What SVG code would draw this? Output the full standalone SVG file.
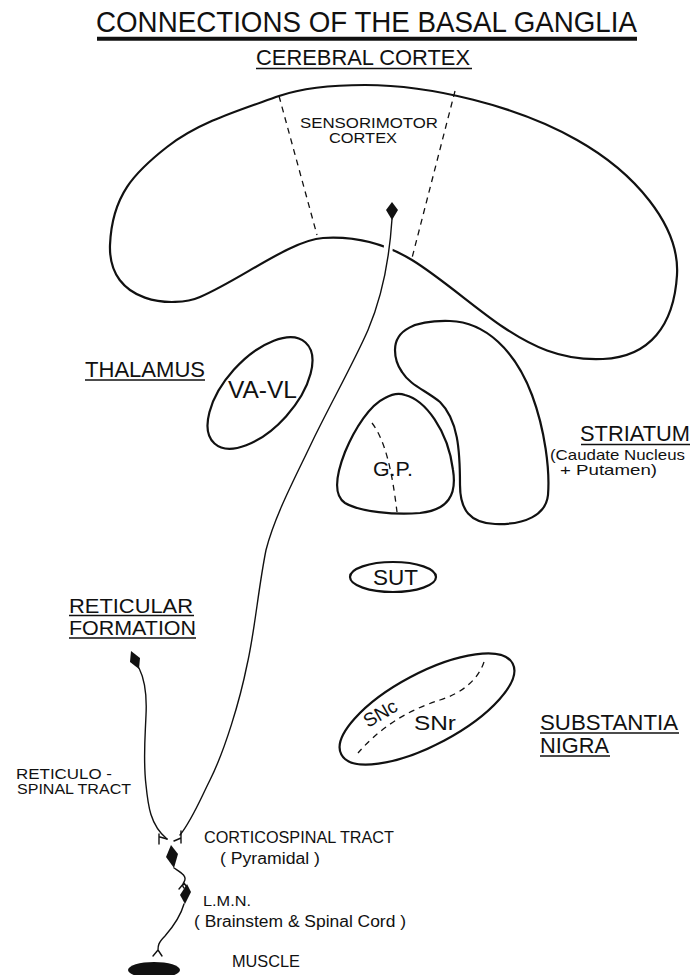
<svg xmlns="http://www.w3.org/2000/svg" width="692" height="975" viewBox="0 0 692 975">
<style>
.o{fill:none;stroke:#111;stroke-width:2.2;stroke-linejoin:round}
.d{fill:none;stroke:#111;stroke-width:1.3;stroke-dasharray:6 5}
.ax{fill:none;stroke:#111;stroke-width:1.4;stroke-linecap:round;stroke-linejoin:round}
.soma{fill:#111}
text{font-family:"Liberation Sans",Arial,sans-serif;fill:#111}
.ul{stroke:#111;stroke-width:1.5}
</style>
<rect width="692" height="975" fill="#fff"/>

<g id="title">
<text x="96" y="32" font-size="29" textLength="541" lengthAdjust="spacingAndGlyphs">CONNECTIONS OF THE BASAL GANGLIA</text>
<line x1="97" y1="38.7" x2="637" y2="38.7" stroke="#111" stroke-width="4"/>
</g>

<g id="cortex">
<text x="256" y="65" font-size="22" textLength="214" lengthAdjust="spacingAndGlyphs">CEREBRAL CORTEX</text>
<line class="ul" x1="256" y1="68.5" x2="472" y2="68.5"/>
<path class="o" d="M365,85 C430,85 518,106 577,140 C634,172 680,225 677,275 C674,325 650,357 603,359 C560,361 530,345 503,327 C476,309 440,277 412,260 C384,243 355,236 323,238 C291,240 240,280 200,297 C175,308 108,305 110,245 C112,195 135,172 167,147 C199,122 240,110 279,96 C305,87 335,85 365,85 Z"/>
<path class="d" d="M279,96 L317,235"/>
<path class="d" d="M455,91 L412,258"/>
<text x="300" y="128" font-size="14.5" textLength="138" lengthAdjust="spacingAndGlyphs">SENSORIMOTOR</text>
<text x="329" y="143" font-size="14.5" textLength="68" lengthAdjust="spacingAndGlyphs">CORTEX</text>
</g>

<g id="thalamus">
<text x="85" y="377" font-size="22" textLength="120" lengthAdjust="spacingAndGlyphs">THALAMUS</text>
<line class="ul" x1="85" y1="380" x2="205" y2="380"/>
<ellipse class="o" cx="260" cy="393" rx="68" ry="35" transform="rotate(-48 260 393)"/>
<text x="228" y="398" font-size="23" textLength="69" lengthAdjust="spacingAndGlyphs">VA-VL</text>
</g>

<g id="striatum">
<path class="o" d="M395,350 C395,330 415,320 450,321 C485,322 515,350 532,395 C545,430 550,470 548,495 C546,515 525,525 495,524 C470,523 460,510 460,485 C460,450 458,420 440,402 C425,390 410,385 402,372 C397,365 395,358 395,350 Z"/>
<text x="580" y="441" font-size="22" textLength="110" lengthAdjust="spacingAndGlyphs">STRIATUM</text>
<line class="ul" x1="581" y1="444.5" x2="690" y2="444.5"/>
<text x="550" y="460" font-size="14.5" textLength="135" lengthAdjust="spacingAndGlyphs">(Caudate Nucleus</text>
<text x="560" y="475" font-size="14.5" textLength="97" lengthAdjust="spacingAndGlyphs">+ Putamen)</text>
</g>

<g id="globus-pallidus">
<path class="o" d="M405,395 C425,400 448,430 453,470 C457,495 448,510 420,513 C395,515 360,512 345,503 C333,495 336,475 345,452 C355,428 370,405 385,398 C392,394 400,393 405,395 Z"/>
<path class="d" d="M372,423 C385,440 392,470 397,512"/>
<text x="373" y="476" font-size="21" textLength="40" lengthAdjust="spacingAndGlyphs">G.P.</text>
</g>

<g id="subthalamic">
<ellipse class="o" cx="393" cy="577" rx="43" ry="15"/>
<text x="373" y="585" font-size="22" textLength="45" lengthAdjust="spacingAndGlyphs">SUT</text>
</g>

<g id="substantia-nigra">
<ellipse class="o" cx="427" cy="709" rx="97" ry="36" transform="rotate(-28 427 709)"/>
<path class="d" d="M484,662 C478,680 462,693 440,700 C415,708 385,722 358,753"/>
<text x="368" y="728" font-size="19" transform="rotate(-30 368 728)">SNc</text>
<text x="414" y="730" font-size="20" textLength="42" lengthAdjust="spacingAndGlyphs">SNr</text>
<text x="540" y="730" font-size="22" textLength="138" lengthAdjust="spacingAndGlyphs">SUBSTANTIA</text>
<line class="ul" x1="540" y1="733" x2="679" y2="733"/>
<text x="540" y="753" font-size="22" textLength="69" lengthAdjust="spacingAndGlyphs">NIGRA</text>
<line class="ul" x1="540" y1="756" x2="610" y2="756"/>
</g>

<g id="reticular-formation">
<text x="69" y="613" font-size="20.5" textLength="124" lengthAdjust="spacingAndGlyphs">RETICULAR</text>
<line class="ul" x1="69" y1="615.5" x2="194" y2="615.5"/>
<text x="69" y="635" font-size="20.5" textLength="127" lengthAdjust="spacingAndGlyphs">FORMATION</text>
<line class="ul" x1="69" y1="638" x2="196" y2="638"/>
<polygon class="soma" points="131,651 140,658 139,669 130,662"/>
</g>

<g id="labels">
<text x="16" y="779" font-size="14.5" textLength="96" lengthAdjust="spacingAndGlyphs">RETICULO -</text>
<text x="17" y="794" font-size="14.5" textLength="114" lengthAdjust="spacingAndGlyphs">SPINAL TRACT</text>
<text x="204" y="843" font-size="16" textLength="190" lengthAdjust="spacingAndGlyphs">CORTICOSPINAL TRACT</text>
<text x="220" y="864" font-size="16" textLength="100" lengthAdjust="spacingAndGlyphs">( Pyramidal )</text>
<text x="203" y="906" font-size="15" textLength="48" lengthAdjust="spacingAndGlyphs">L.M.N.</text>
<text x="194" y="927" font-size="16" textLength="212" lengthAdjust="spacingAndGlyphs">( Brainstem &amp; Spinal Cord )</text>
<text x="232" y="967" font-size="17" textLength="68" lengthAdjust="spacingAndGlyphs">MUSCLE</text>
</g>

<g id="neurons">
<polygon class="soma" points="392,202 398,210 392,220 386,210"/>
<polygon class="soma" points="171,845 178,854 174,868 166,857"/>
<polygon class="soma" points="187,884 191,892 185,904 180,895"/>
<ellipse id="muscle" class="soma" cx="154" cy="970" rx="26" ry="8"/>
</g>

<g id="connectors">
<path d="M389,240 L387,262" stroke="#fff" stroke-width="9" fill="none"/>
<path class="ax" d="M392,219 C390,250 385,290 368,330 C355,360 330,405 313,440 C295,478 275,515 266,550 C258,590 255,630 247,665 C240,700 225,750 210,780 C200,800 192,820 180,835"/>
<path class="ax" d="M139,668 C145,680 147,695 146,715 C145,740 143,760 146,785 C148,805 150,825 167,839"/>
<path class="ax" d="M167,839 L160,837 M159,834 L159,844 M181,831 L181,843 M181,838 L174,841"/>
<path class="ax" d="M174,868 C180,872 188,876 184,882 C182,885 183,887 184,888 M184,883 L179,889 M184,883 L188,889"/>
<path class="ax" d="M184,904 C180,918 172,928 165,936 C158,943 158,946 158,950 M158,950 L153,956 M158,950 L162,956"/>
</g>
</svg>
